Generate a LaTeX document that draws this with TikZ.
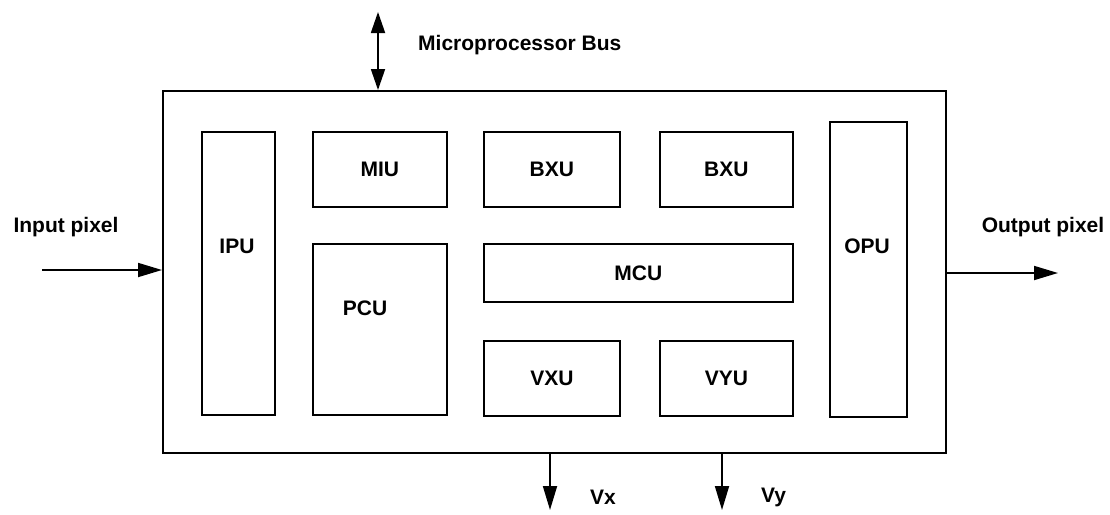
\documentclass[tikz,border=0pt]{standalone}
\usepackage{fontspec}
\setmainfont{Liberation Sans}
\usetikzlibrary{arrows.meta,positioning}

\begin{document}
\begin{tikzpicture}[x=1pt, y=-1pt, line width=1.8pt,
        every node/.style={font=\fontsize{21}{25}\selectfont\bfseries},
        unit/.style={draw, inner sep=0pt, anchor=north west},
        sig/.style={-{Triangle[length=24pt, width=14pt]}}]
        \useasboundingbox (0,0) rectangle (1110,514);
        % chip outline
        \node[unit, minimum width=783pt, minimum height=362pt] (chip) at (162,90) {};
        % units inside
        \node[unit, minimum width=73pt, minimum height=283pt] (ipu) at (201,131) {};
        \node (ipulbl) at (237,246) {IPU};
        \node[unit, minimum width=134pt, minimum height=75pt] (miu) at (312,131) {MIU};
        \node[unit, minimum width=136pt, minimum height=75pt] (bxua) at (483,131) {BXU};
        \node[unit, minimum width=133pt, minimum height=75pt] (bxub) at (659,131) {BXU};
        \node[unit, minimum width=134pt, minimum height=171pt] (pcu) at (312,243) {};
        \node (pculbl) at (365,308) {PCU};
        \node[unit, minimum width=309pt, minimum height=58pt] (mcu) at (483,243) {MCU};
        \node[unit, minimum width=136pt, minimum height=75pt] (vxu) at (483,340) {VXU};
        \node[unit, minimum width=133pt, minimum height=75pt] (vyu) at (659,340) {VYU};
        \node[unit, minimum width=77pt, minimum height=295pt] (opu) at (829,121) {};
        \node (opulbl) at (867,246) {OPU};
        % external signals
        \coordinate (busend) at (378,12);
        \draw[{Triangle[length=21pt, width=14pt]}-{Triangle[length=21pt, width=14pt]}] (busend) -- (busend |- chip.north);
        \node[anchor=west] (buslbl) at (414,45) {Microprocessor Bus};
        \coordinate (pixin) at (42,270);
        \draw[sig] (pixin) -- (pixin -| chip.west);
        \node (inlbl) at (66,227) {Input pixel};
        \coordinate (pixout) at (1058,273);
        \draw[sig] (pixout -| chip.east) -- (pixout);
        \node (outlbl) at (1043,227) {Output pixel};
        \foreach \v/\x/\lx in {x/550/586, y/722/757} {
            \coordinate (v\v end) at (\x,510);
            \draw[sig] (v\v end |- chip.south) -- (v\v end);
            \node[anchor=west] (v\v lbl) at (\lx,497) {V\v};
        }
    \end{tikzpicture}
\end{document}
